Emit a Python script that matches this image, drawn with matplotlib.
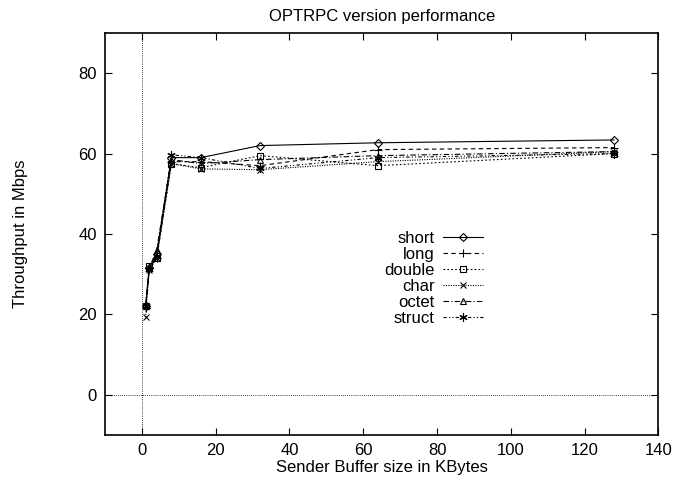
import matplotlib
matplotlib.use("Agg")
import matplotlib.pyplot as plt

plt.rcParams['font.family'] = ['Liberation Sans', 'DejaVu Sans']

buffer_kb = [1, 2, 4, 8, 16, 32, 64, 128]
short_v  = [22.0, 31.5, 35.0, 59.0, 59.0, 62.0, 62.7, 63.4]
long_v   = [21.5, 31.5, 34.0, 58.0, 58.0, 57.0, 61.0, 61.5]
double_v = [22.0, 32.0, 34.0, 57.5, 56.5, 59.5, 57.0, 60.0]
char_v   = [19.3, 31.0, 34.0, 57.5, 56.2, 56.0, 58.0, 60.5]
octet_v  = [22.0, 31.5, 36.0, 58.5, 57.5, 58.5, 59.5, 60.5]
struct_v = [22.0, 31.3, 34.5, 59.7, 59.0, 56.3, 59.0, 60.0]

labels = ['short', 'long', 'double', 'char', 'octet', 'struct']
series = [short_v, long_v, double_v, char_v, octet_v, struct_v]
markers = ['D', '+', 's', 'x', '^', (6, 2, 0)]
msizes = [4, 6, 5, 5, 5, 6]
dashes = ['-', (0, (4, 3)), (0, (1.5, 2)), (0, (1, 1.2)), (0, (5, 2, 1, 2)), (0, (3, 2, 1, 2, 1, 2))]

fig = plt.figure(figsize=(6.84, 4.79), dpi=100)
ax = fig.add_axes([0.1535, 0.092, 0.809, 0.839])

ax.axhline(0, color='black', lw=0.6, ls=(0, (1, 1.5)), zorder=1)
ax.axvline(0, color='black', lw=0.6, ls=(0, (1, 1.5)), zorder=1)

for lab, vals, mk, ms, ds in zip(labels, series, markers, msizes, dashes):
    ax.plot(buffer_kb, vals, color='black', lw=0.8, ls=ds, marker=mk,
            markersize=ms, markerfacecolor='none', markeredgecolor='black',
            markeredgewidth=0.8, label=lab)

ax.set_xlim(-10, 140)
ax.set_ylim(-10, 90)
ax.set_xticks(range(0, 141, 20))
ax.set_yticks(range(0, 81, 20))
ax.tick_params(direction='in', top=True, right=True, length=5, width=0.8,
               labelsize=12, pad=6)
for sp in ax.spines.values():
    sp.set_linewidth(1.2)

ax.set_title('OPTRPC version performance', fontsize=12, pad=9)
ax.set_xlabel('Sender Buffer size in KBytes', fontsize=12, labelpad=1)
ax.set_ylabel('Throughput in Mbps', fontsize=12, labelpad=36)

ax.legend(loc='upper right', bbox_to_anchor=(0.698, 0.528), frameon=False,
          markerfirst=False, numpoints=1, handlelength=2.4, handletextpad=0.5,
          labelspacing=0.06, fontsize=12, borderpad=0)

fig.savefig('out.png', dpi=100)
